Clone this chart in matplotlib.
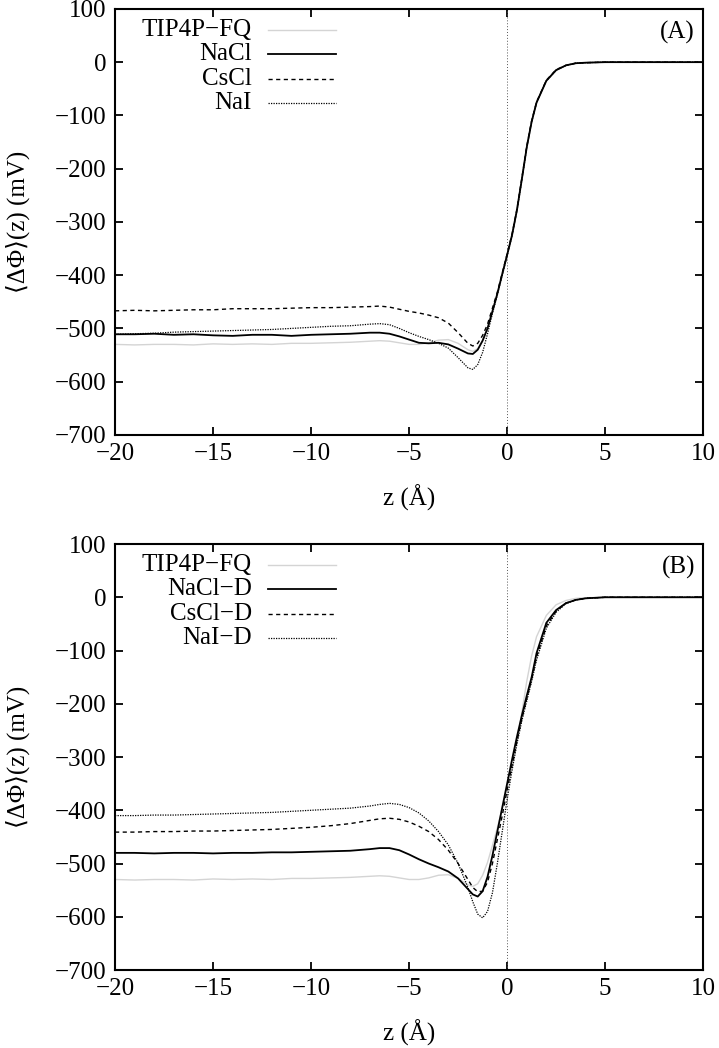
import numpy as np
from matplotlib import pyplot as plt

plt.rcParams["font.family"] = ["Liberation Serif", "DejaVu Serif"]

# z grid (Angstrom), shared by every curve
z = [-20, -19, -18, -17, -16, -15, -14, -13, -12, -11, -10, -9, -8, -7,
     -6.5, -6, -5.5, -5, -4.5, -4, -3.5, -3, -2.5, -2, -1.75, -1.5, -1.25,
     -1, -0.75, -0.5, -0.25, 0, 0.25, 0.5, 0.75, 1, 1.25, 1.5, 2, 2.5, 3,
     3.5, 4, 5, 6, 7, 8, 9, 10]

# pure water, drawn in both panels
tip4p = [-530, -531, -530, -530, -531, -529, -530, -529, -530, -528, -528, -527, -526, -524,
         -523, -524, -527, -530, -530, -527, -522, -521, -528, -540, -543, -538, -522,
         -498, -466, -433, -397, -360, -322, -274, -217, -158, -110, -74, -34, -14, -6,
         -2, -1, 0, 0, 0, 0, 0, 0]

# panel A
nacl = [-511, -511, -510, -512, -511, -513, -514, -512, -512, -514, -512, -511, -510, -508,
        -508, -510, -515, -521, -527, -528, -527, -530, -538, -547, -548, -540, -523,
        -500, -468, -435, -398, -362, -325, -278, -220, -160, -112, -76, -35, -15, -6,
        -2, -1, 0, 0, 0, 0, 0, 0]
cscl = [-467, -466, -467, -466, -465, -465, -463, -463, -463, -462, -461, -461, -460, -459,
        -458, -460, -464, -468, -471, -475, -480, -490, -508, -528, -533, -528, -513,
        -492, -462, -432, -396, -360, -323, -276, -218, -158, -110, -75, -34, -14, -6,
        -2, -1, 0, 0, 0, 0, 0, 0]
nai = [-511, -510, -509, -507, -506, -505, -504, -503, -502, -500, -498, -496, -495, -492,
       -491, -493, -500, -508, -515, -521, -528, -537, -555, -574, -577, -568, -545,
       -510, -472, -437, -400, -364, -326, -279, -221, -161, -112, -76, -35, -15, -6,
       -2, -1, 0, 0, 0, 0, 0, 0]

# panel B
nacl_d = [-480, -480, -481, -480, -480, -481, -480, -480, -479, -479, -478, -477, -476, -473,
          -471, -471, -475, -483, -492, -500, -507, -515, -528, -548, -558, -562, -552,
          -525, -485, -440, -395, -350, -305, -262, -222, -185, -150, -105, -48, -24, -11,
          -5, -2, 0, 0, 0, 0, 0, 0]
cscl_d = [-441, -441, -440, -440, -439, -439, -438, -437, -436, -434, -432, -429, -425, -419,
          -416, -415, -417, -422, -430, -440, -455, -475, -500, -530, -545, -553, -552,
          -535, -500, -455, -410, -362, -315, -270, -228, -190, -154, -112, -54, -26, -11,
          -5, -2, 0, 0, 0, 0, 0, 0]
nai_d = [-410, -410, -409, -409, -408, -407, -406, -405, -404, -402, -400, -398, -396, -392,
         -389, -387, -389, -395, -405, -420, -440, -465, -500, -545, -572, -595, -602,
         -590, -555, -500, -440, -380, -325, -275, -232, -195, -158, -118, -58, -28, -12,
         -5, -2, 0, 0, 0, 0, 0, 0]

panels = [
    ("(A)", ["TIP4P\u2212FQ", "NaCl", "CsCl", "NaI"], [tip4p, nacl, cscl, nai]),
    ("(B)", ["TIP4P\u2212FQ", "NaCl\u2212D", "CsCl\u2212D", "NaI\u2212D"], [tip4p, nacl_d, cscl_d, nai_d]),
]

styles = [
    dict(color="#d4d4d4", lw=1.0, ls="-"),
    dict(color="black", lw=1.3, ls="-"),
    dict(color="black", lw=1.0, ls=(0, (3, 2.5))),
    dict(color="black", lw=0.9, ls=(0, (1, 1))),
]

fig = plt.figure(figsize=(7.19, 10.48), dpi=100)
rects = [[0.160, 0.585, 0.818, 0.4065], [0.160, 0.0744, 0.818, 0.4065]]

for rect, (tag, labels, series) in zip(rects, panels):
    ax = fig.add_axes(rect)
    ax.axvline(0, color="#555555", lw=0.7, ls=(0, (1, 2)))
    for k, (lab, ys) in enumerate(zip(labels, series)):
        ax.plot(z, ys, **styles[k])
        # gnuplot-like key: right-aligned text, sample line after it
        yk = 0.951 - 0.0575 * k
        ax.text(0.2325, yk, lab, transform=ax.transAxes, ha="right", va="center", fontsize=18)
        ax.plot([0.2597, 0.3759], [yk, yk], transform=ax.transAxes, **styles[k])
    ax.text(0.986, 0.944, tag, transform=ax.transAxes, ha="right", va="center", fontsize=18)

    ax.set_xlim(-20, 10)
    ax.set_ylim(-700, 100)
    ax.set_xticks(np.arange(-20, 11, 5))
    ax.set_yticks(np.arange(-700, 101, 100))
    ax.tick_params(direction="in", length=6, width=1.3, top=True, right=True, labelsize=18, pad=6)
    for s in ax.spines.values():
        s.set_linewidth(1.5)
    ax.set_xlabel("z (\u00c5)", fontsize=18, labelpad=14)
    ax.set_ylabel("\u27e8\u0394\u03a6\u27e9(z) (mV)", fontsize=18, labelpad=18)

fig.savefig("out.png", dpi=100)
